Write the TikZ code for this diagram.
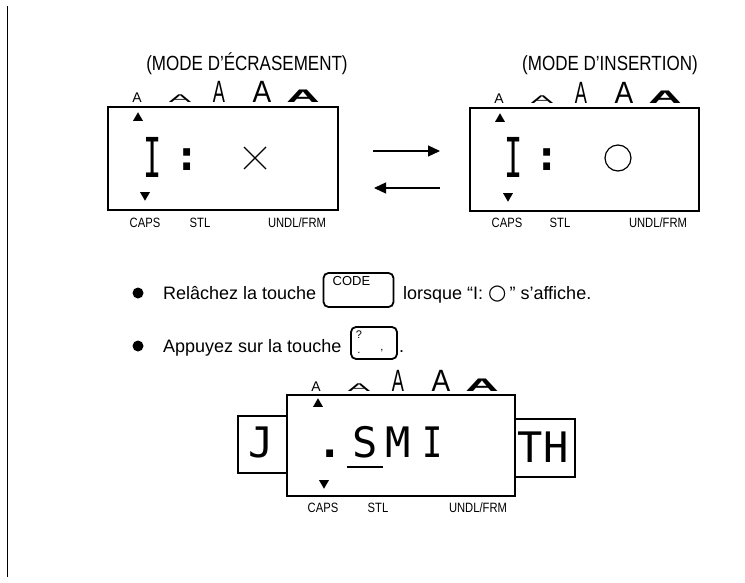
\documentclass[tikz,border=0pt]{standalone}
\usepackage{fontspec}
\usepackage{graphicx}
\setmainfont{Liberation Sans}
\newfontfamily\narrowfont[FakeStretch=0.83]{Liberation Sans}
\newfontfamily\lcdfont{DejaVu Sans Mono}
\newfontfamily\symfont{DejaVu Sans}
\usetikzlibrary{arrows.meta,shapes.geometric}
\newcommand\sizerow[3]{%
  \node[sizeA] (#1a) at (#2+29,#3) {A};
  \node[sizeA] (#1b) at (#2+72,#3) {\scalebox{2.4}[0.8]{A}};
  \node[sizeA] (#1c) at (#2+111,#3) {\scalebox{1.3}[2.2]{A}};
  \node[sizeA] (#1d) at (#2+154,#3) {\scalebox{2}[2.2]{A}};
  \node[sizeA] (#1e) at (#2+195,#3) {\scalebox{3.3}[1.3]{\bfseries A}};
}
\begin{document}
\begin{tikzpicture}[x=1pt,y=-1pt,
  lcdbox/.style={draw,line width=2.6pt,inner sep=0pt},
  thinbox/.style={draw,line width=1.1pt,inner sep=0pt},
  keybox/.style={draw,line width=1.8pt,rounded corners=5pt,inner sep=0pt},
  sizeA/.style={anchor=base,inner sep=0pt,font=\fontsize{14}{14}\selectfont},
  tri/.style={fill,regular polygon,regular polygon sides=3,minimum size=11.5pt,inner sep=0pt},
  tridown/.style={tri,shape border rotate=180},
  lbl/.style={anchor=base,inner sep=0pt,font=\narrowfont\fontsize{13.5}{14}\selectfont},
  title/.style={anchor=base,inner sep=0pt,font=\narrowfont\fontsize{20.5}{22}\selectfont},
  body/.style={anchor=base west,inner sep=0pt,font=\fontsize{18}{20}\selectfont},
  keytxt/.style={anchor=base,inner sep=0pt,font=\fontsize{11}{11}\selectfont},
  big/.style={anchor=base,inner sep=0pt,font=\lcdfont\fontsize{55}{55}\selectfont},
  mid/.style={anchor=base,inner sep=0pt,font=\lcdfont\fontsize{42}{42}\selectfont},
  colon/.style={anchor=base,inner sep=0pt,font=\lcdfont\bfseries\fontsize{42}{42}\selectfont},
  bullet/.style={circle,fill,minimum size=11pt,inner sep=0pt},
  arr/.style={line width=1.2pt,-{Triangle[length=12pt,width=11pt]}},
]
\useasboundingbox (0,0) rectangle (745,583);
% left margin rule
\coordinate (vt) at (7,6);
\coordinate (vb) at (7,577);
\draw[line width=1pt] (vt) -- (vb);

% titles
\node[title] (ttl1) at (247,71) {(MODE D’ÉCRASEMENT)};
\node[title] (ttl2) at (610,71) {(MODE D’INSERTION)};

% display 1
\sizerow{s1}{108}{103}
\node[lcdbox,minimum width=230pt,minimum height=103pt] (d1) at (223,158.5) {};
\node[tri] (d1up) at (138,118) {};
\node[tridown] (d1dn) at (145,195) {};
\node[big] (d1i) at (153,178) {\scalebox{0.55}[1]{I}};
\node[colon] (d1c) at (187,171) {:};
\draw[line width=1.3pt] (244,147) -- (266,169) (244,169) -- (266,147);
\node[lbl] (d1caps) at (145,227) {CAPS};
\node[lbl] (d1stl) at (200,227) {STL};
\node[lbl] (d1undl) at (297,227) {UNDL/FRM};

% display 2
\sizerow{s2}{470}{104}
\node[lcdbox,minimum width=229pt,minimum height=103pt] (d2) at (584.5,159.5) {};
\node[tri] (d2up) at (500,119) {};
\node[tridown] (d2dn) at (508,196) {};
\node[big] (d2i) at (514,178) {\scalebox{0.55}[1]{I}};
\node[colon] (d2c) at (547,171) {:};
\draw[line width=1.2pt] (618,158) circle[radius=13pt];
\node[lbl] (d2caps) at (507,228) {CAPS};
\node[lbl] (d2stl) at (560,228) {STL};
\node[lbl] (d2undl) at (658,228) {UNDL/FRM};

% arrows between displays
\coordinate (a1s) at (373,151);
\coordinate (a1e) at (440,151);
\coordinate (a2s) at (440,188);
\coordinate (a2e) at (374,188);
\draw[arr] (a1s) -- (a1e);
\draw[arr] (a2s) -- (a2e);

% bullet 1
\node[bullet] (b1) at (138,293) {};
\node[body] (t1a) at (163,299) {Relâchez la touche};
\node[keybox,minimum width=70pt,minimum height=34pt] (kcode) at (358.5,290) {};
\node[anchor=base,inner sep=0pt,font=\fontsize{13}{13}\selectfont] (kcodelbl) at (351.5,285) {CODE};
\node[body] (t1b) at (403,299) {lorsque “I: {\symfont\fontsize{21}{20}\selectfont ○}\,” s’affiche.};

% bullet 2
\node[bullet] (b2) at (138,346) {};
\node[body] (t2a) at (163,352) {Appuyez sur la touche};
\node[keybox,minimum width=46pt,minimum height=32pt] (kq) at (374,343) {};
\node[keytxt] (kq1) at (359,338) {?};
\node[keytxt] (kq2) at (359,353) {.};
\node[keytxt] (kq3) at (382,350) {,};
\node[body] (t2b) at (399,352) {.};

% display 3
\node[thinbox,minimum width=49pt,minimum height=57pt] (jbox) at (262.5,444.5) {};
\node[thinbox,minimum width=60pt,minimum height=58pt] (thbox) at (545,448) {};
\node[mid] (jt) at (261,457) {J};
\node[mid] (tht) at (543,462) {TH};
\sizerow{s3}{287}{391}
\node[lcdbox,fill=white,minimum width=228pt,minimum height=101pt] (d3) at (401,445.5) {};
\node[tri] (d3up) at (318,404) {};
\node[tridown] (d3dn) at (324,483) {};
\node[colon] (d3dot) at (330,457) {.};
\node[mid] (d3s) at (365,457) {S};
\node[mid] (d3m) at (398,457) {M};
\node[mid] (d3i) at (433,457) {\scalebox{0.8}[1]{I}};
\draw[line width=1.3pt] (347,467) -- (383,467);
\node[lbl] (d3caps) at (323,512) {CAPS};
\node[lbl] (d3stl) at (378,512) {STL};
\node[lbl] (d3undl) at (478,512) {UNDL/FRM};
\end{tikzpicture}
\end{document}
